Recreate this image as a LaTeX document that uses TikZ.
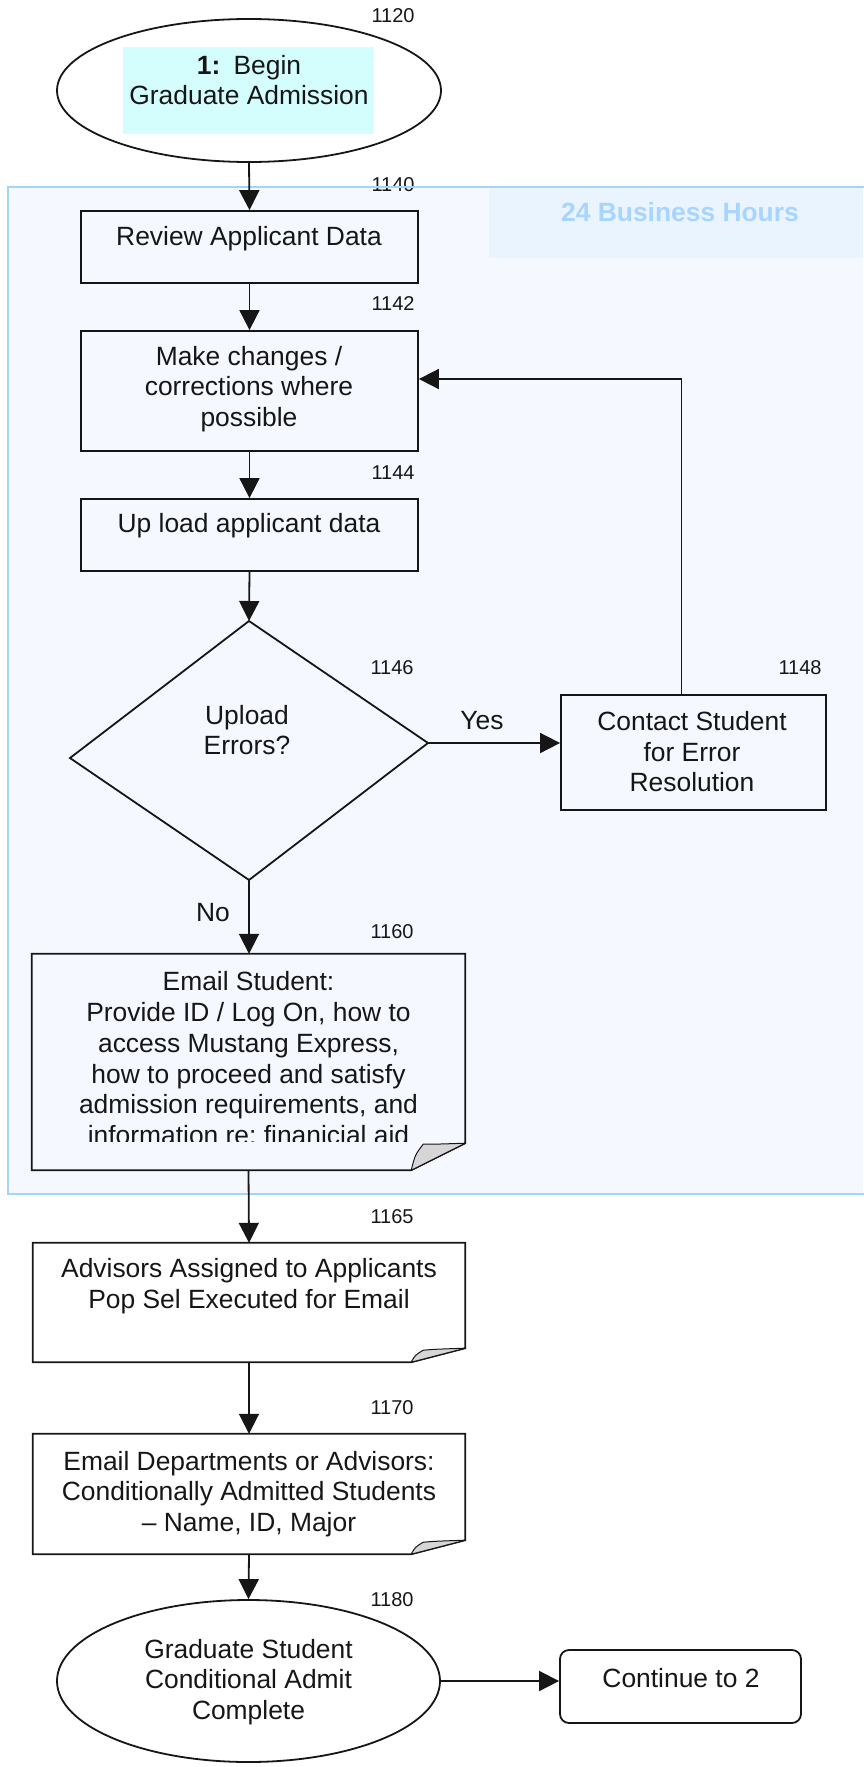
\documentclass[tikz,border=0pt]{standalone}
\usepackage{fontspec}
\setmainfont{Liberation Sans}
\usetikzlibrary{arrows.meta,shapes.geometric}
\frenchspacing

\definecolor{ink}{HTML}{161616}
\definecolor{groupbg}{HTML}{F5F9FF}
\definecolor{groupline}{HTML}{A6D3F8}
\definecolor{headbg}{HTML}{EAF4FF}
\definecolor{headtext}{HTML}{A8D5FF}
\definecolor{startbg}{HTML}{D4FDFD}
\definecolor{foldgray}{HTML}{D6D6D6}

\tikzset{
  flow/.style={draw=ink, line width=1.8pt},
  arr/.style={flow, -{Triangle[length=20pt,width=20pt]}},
  box/.style={flow, rectangle, inner sep=0pt},
  notebox/.style={rectangle, inner sep=0pt, draw=none},
  oval/.style={flow, ellipse, inner sep=0pt},
  txt/.style={text=ink, align=center, inner sep=0pt, font=\fontsize{26.4pt}{30.5pt}\selectfont},
  num/.style={text=ink, inner sep=0pt, font=\fontsize{20pt}{24pt}\selectfont},
}

% outline of a note box with a curled lower right corner
% #1 node name, #2 fold height, #3 height of the curl tip
\newcommand\curlednote[3]{%
  \draw[flow, line join=miter] (#1.north west) -- (#1.north east)
    -- ([yshift=#2]#1.south east) -- ([xshift=-54pt]#1.south east)
    -- (#1.south west) -- cycle;
  \filldraw[draw=ink, line width=1pt, fill=foldgray, line join=round]
    ([xshift=-54pt]#1.south east)
    .. controls ([xshift=-50pt,yshift={0.6*#3}]#1.south east) .. ([xshift=-42pt,yshift=#3]#1.south east)
    .. controls ([xshift=-30pt,yshift={#2-1pt}]#1.south east) .. ([yshift=#2]#1.south east) -- cycle;
}

\begin{document}
\begin{tikzpicture}[x=1pt,y=-1pt]
\useasboundingbox (0,0) rectangle (863,1767);

% swimlane for the first business day
\fill[groupbg] (8,187) rectangle (863,1194);
\fill[headbg] (489,188) rectangle (863,258);
\node[text=headtext, inner sep=0pt, font=\bfseries\fontsize{26.4pt}{30pt}\selectfont] (lanetitle) at (680,212) {24 Business Hours};
\node[num] (n1140) at (393,185) {1140};
\draw[groupline, line width=1.5pt] (870,187) -- (8,187) -- (8,1194) -- (870,1194);

% step numbers
\node[num] (n1120) at (393,16) {1120};
\node[num] (n1142) at (393,304) {1142};
\node[num] (n1144) at (393,473) {1144};
\node[num] (n1146) at (392,668) {1146};
\node[num] (n1148) at (800,668) {1148};
\node[num] (n1160) at (392,932) {1160};
\node[num] (n1165) at (392,1217) {1165};
\node[num] (n1170) at (392,1408) {1170};
\node[num] (n1180) at (392,1600) {1180};

% start
\node[oval, minimum width=384pt, minimum height=143pt] (start) at (249,90.5) {};
\fill[startbg] (123,47) rectangle (374,134);
\node[txt] (starttext) at (249,80) {\textbf{1:}\enspace Begin\\Graduate Admission};

% processing steps
\node[box, minimum width=337pt, minimum height=72pt] (review) at (249.5,247) {};
\node[txt] (reviewtext) at (249,239) {Review Applicant Data};

\node[box, minimum width=337pt, minimum height=120pt] (make) at (249.5,391) {};
\node[txt] (maketext) at (249,389) {Make changes /\\corrections where\\possible};

\node[box, minimum width=337pt, minimum height=72pt] (upload) at (249.5,535) {};
\node[txt] (uploadtext) at (249,526) {Up load applicant data};

% decision
\coordinate (dtop) at (249,621);
\coordinate (dright) at (428,743);
\coordinate (dbottom) at (249,880);
\coordinate (dleft) at (70,758);
\draw[flow, line join=miter] (dtop) -- (dright) -- (dbottom) -- (dleft) -- cycle;
\node[txt] (decisiontext) at (247,730) {Upload\\Errors?};

\node[box, minimum width=265pt, minimum height=115pt] (contact) at (693.5,752.5) {};
\node[txt] (contacttext) at (692,752) {Contact Student\\for Error\\Resolution};

% notification notes
\node[notebox, minimum width=433pt, minimum height=216pt] (email) at (248.5,1062) {};
\begin{scope}
  \clip (email.north west) rectangle ([yshift=29pt]email.south east);
  \node[txt, anchor=north, font=\fontsize{26.4pt}{30.9pt}\selectfont] (emailtext) at (248.5,971) {Email Student:\\Provide ID / Log On, how to\\access Mustang Express,\\how to proceed and satisfy\\admission requirements, and\\information re: finanicial aid};
\end{scope}
\curlednote{email}{27pt}{26pt}

\node[notebox, minimum width=432pt, minimum height=119pt] (advisors) at (249,1302.5) {};
\node[txt] (advisorstext) at (249,1286) {Advisors Assigned to Applicants\\Pop Sel Executed for Email};
\curlednote{advisors}{14pt}{12pt}

\node[notebox, minimum width=432pt, minimum height=120pt] (dept) at (249,1494) {};
\node[txt] (depttext) at (249,1494) {Email Departments or Advisors:\\Conditionally Admitted Students\\\textendash\ Name, ID, Major};
\curlednote{dept}{14pt}{12pt}

% end of part 1
\node[oval, minimum width=383pt, minimum height=162pt] (finish) at (248.5,1681) {};
\node[txt] (finishtext) at (248.5,1682) {Graduate Student\\Conditional Admit\\Complete};

\node[box, rounded corners=9pt, minimum width=241pt, minimum height=73pt] (cont) at (680.5,1686.5) {};
\node[txt] (conttext) at (681,1678) {Continue to 2};

% connectors
\draw[arr] (start.south) -- (review.north);
\draw[arr] (review.south) -- (make.north);
\draw[arr] (make.south) -- (upload.north);
\draw[arr] (upload.south) -- (dtop);
\draw[arr] (dright) -- (contact.west |- dright);
\draw[arr] ([xshift=-12pt]contact.north) |- ([yshift=12pt]make.east);
\draw[arr] (dbottom) -- (email.north -| dbottom);
\draw[arr] (email.south) -- (advisors.north);
\draw[arr] (advisors.south) -- (dept.north);
\draw[arr] (dept.south) -- (finish.north);
\draw[arr] (finish.east) -- (cont.west |- finish.east);

% branch labels
\node[txt] (yes) at (482,721) {Yes};
\node[txt] (no) at (213,913) {No};
\end{tikzpicture}
\end{document}
